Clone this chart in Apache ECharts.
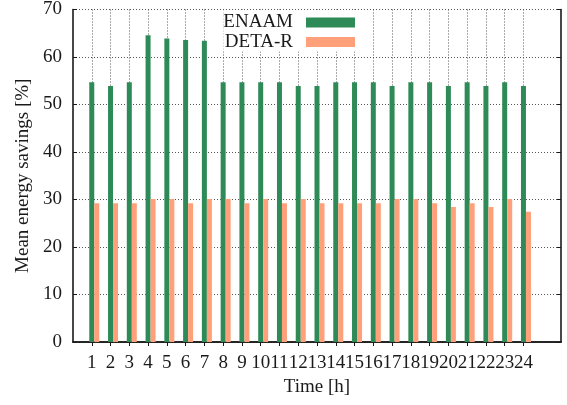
<!DOCTYPE html>
<html>
<head>
<meta charset="utf-8">
<script src="https://cdn.jsdelivr.net/npm/echarts@6/dist/echarts.min.js"></script>
<style>
  html, body { margin: 0; padding: 0; background: #fff; }
  #chart { width: 567px; height: 405px; }
</style>
</head>
<body>
<div id="chart"></div>
<script>
// Hour of day labels
const hours = ['1','2','3','4','5','6','7','8','9','10','11','12',
               '13','14','15','16','17','18','19','20','21','22','23','24'];
// Mean energy savings per hour [%]
const enaam = [54.7, 53.9, 54.7, 64.6, 63.9, 63.6, 63.4, 54.7, 54.7, 54.7, 54.7, 53.9,
               53.9, 54.7, 54.7, 54.7, 53.9, 54.7, 54.7, 53.9, 54.7, 53.9, 54.7, 53.9];
const detaR = [29.2, 29.2, 29.2, 30.1, 30.1, 29.2, 30.1, 30.1, 29.2, 30.1, 29.2, 30.1,
               29.2, 29.2, 29.2, 29.2, 30.1, 30.1, 29.2, 28.4, 29.2, 28.4, 30.1, 27.4];
const yTicks = [0, 10, 20, 30, 40, 50, 60, 70];

// x range runs from 0 to 26 with the hours at 1..24
const xCats = [''].concat(hours, ['', '']);
const pad = arr => [null].concat(arr, [null, null]);
const inHours = idx => idx >= 1 && idx <= hours.length;

const FONT = 'Liberation Serif';
const INK = '#1a1a1a';
const FS = 19;

const chart = echarts.init(document.getElementById('chart'), null, { renderer: 'canvas' });

const frameLine = { show: true, lineStyle: { color: INK, width: 1.6 } };
const gridLine = { show: true, lineStyle: { color: '#555', type: [1, 2], width: 1 } };

chart.setOption({
  animation: false,
  backgroundColor: '#fff',
  textStyle: { fontFamily: FONT, color: INK },
  grid: { left: 73, right: 6, top: 8, bottom: 63, containLabel: false },
  legend: {
    data: ['ENAAM', 'DETA-R'],
    orient: 'vertical',
    align: 'right',
    right: 209,
    top: 10,
    padding: [3, 3, 0, 0],
    itemGap: 0.5,
    itemWidth: 49,
    itemHeight: 10,
    icon: 'rect',
    backgroundColor: '#fff',
    selectedMode: false,
    textStyle: { fontFamily: FONT, fontSize: FS, color: INK, lineHeight: 18, padding: [0, 8, 0, 0] }
  },
  xAxis: [
    {
      type: 'category',
      data: xCats,
      boundaryGap: false,
      position: 'bottom',
      name: 'Time [h]',
      nameLocation: 'middle',
      nameGap: 33,
      nameTextStyle: { fontFamily: FONT, fontSize: FS, color: INK },
      axisLine: frameLine,
      axisTick: { show: true, inside: true, length: 4, interval: inHours, lineStyle: { color: INK } },
      axisLabel: { interval: 0, margin: 12, fontFamily: FONT, fontSize: FS, color: INK },
      splitLine: Object.assign({ interval: inHours }, gridLine)
    },
    {
      type: 'category',
      data: xCats,
      boundaryGap: false,
      position: 'top',
      axisLine: frameLine,
      axisTick: { show: true, inside: true, length: 4, interval: inHours, lineStyle: { color: INK } },
      axisLabel: { show: false },
      splitLine: { show: false }
    }
  ],
  yAxis: [
    {
      type: 'value',
      min: yTicks[0],
      max: yTicks[yTicks.length - 1],
      interval: yTicks[1] - yTicks[0],
      position: 'left',
      name: 'Mean energy savings [%]',
      nameLocation: 'middle',
      nameGap: 40,
      nameTextStyle: { fontFamily: FONT, fontSize: FS, color: INK },
      axisLine: frameLine,
      axisTick: { show: true, inside: true, length: 4, lineStyle: { color: INK } },
      axisLabel: { margin: 11, fontFamily: FONT, fontSize: FS, color: INK },
      splitLine: gridLine
    },
    {
      type: 'value',
      min: yTicks[0],
      max: yTicks[yTicks.length - 1],
      interval: yTicks[1] - yTicks[0],
      position: 'right',
      axisLine: frameLine,
      axisTick: { show: true, inside: true, length: 4, lineStyle: { color: INK } },
      axisLabel: { show: false },
      splitLine: { show: false }
    }
  ],
  series: [
    {
      // empty slot so each hour's ENAAM bar sits on its tick
      name: 'slot',
      type: 'bar',
      data: pad(hours.map(() => null)),
      barWidth: 5,
      barGap: '0%',
      silent: true
    },
    {
      name: 'ENAAM',
      type: 'bar',
      data: pad(enaam),
      barWidth: 5,
      barGap: '0%',
      itemStyle: { color: '#2e8b57' }
    },
    {
      name: 'DETA-R',
      type: 'bar',
      data: pad(detaR),
      barWidth: 5,
      barGap: '0%',
      itemStyle: { color: '#ffa07a' }
    }
  ]
});
</script>
</body>
</html>
